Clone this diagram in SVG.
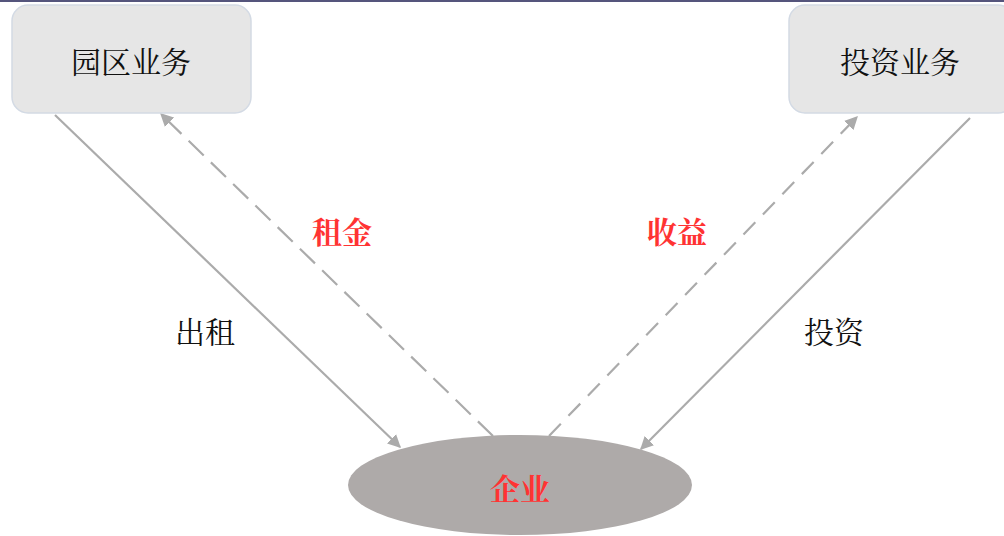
<svg xmlns="http://www.w3.org/2000/svg" width="1004" height="536" viewBox="0 0 1004 536">
<defs>
<style>
.box{fill:#e6e6e6;stroke:#d3dae4;stroke-width:1.5}
.t{font-family:"Noto Serif CJK SC","Noto Sans CJK SC",serif;font-size:30px;text-anchor:middle;dominant-baseline:central}
.lbl{font-family:"Noto Serif CJK SC","Noto Sans CJK SC",serif;font-size:30px;text-anchor:middle;dominant-baseline:central}
.red{fill:#ff3333;font-weight:bold}
.blk{fill:#111}
.ln{stroke:#ababab;stroke-width:2.2;fill:none}
.dashA{stroke-dasharray:21 10}
.dashB{stroke-dasharray:17 11}
</style>
<marker id="ah" viewBox="0 0 10 10" refX="9" refY="5" markerWidth="6" markerHeight="6" orient="auto" markerUnits="strokeWidth">
<path d="M0,0 L10,5 L0,10 Z" fill="#ababab"/>
</marker>
</defs>
<rect width="1004" height="536" fill="#fff"/>
<line x1="0" y1="1" x2="1004" y2="1" stroke="#1c1c50" stroke-width="1.5"/>
<g id="connectors">
<line class="ln" x1="55" y1="115" x2="400" y2="447" marker-end="url(#ah)"/>
<line class="ln dashA" x1="493" y1="436" x2="161" y2="114" marker-end="url(#ah)"/>
<line class="ln dashB" x1="549" y1="436" x2="857" y2="117" marker-end="url(#ah)"/>
<line class="ln" x1="970" y1="118" x2="641" y2="449" marker-end="url(#ah)"/>
</g>
<g id="node-park">
<rect class="box" x="12" y="5" width="239" height="108" rx="16"/>
<text class="t blk" x="131" y="60">园区业务</text>
</g>
<g id="node-invest">
<rect class="box" x="789" y="5" width="225" height="108" rx="16"/>
<text class="t blk" x="900" y="60">投资业务</text>
</g>
<g id="node-company">
<ellipse cx="520" cy="485" rx="172" ry="50" fill="#aeaaa9"/>
<text class="lbl red" x="520" y="487">企业</text>
</g>
<g id="labels">
<text class="lbl red" x="342" y="230">租金</text>
<text class="lbl red" x="677" y="230">收益</text>
<text class="lbl blk" x="205" y="330">出租</text>
<text class="lbl blk" x="834" y="330">投资</text>
</g>
</svg>
